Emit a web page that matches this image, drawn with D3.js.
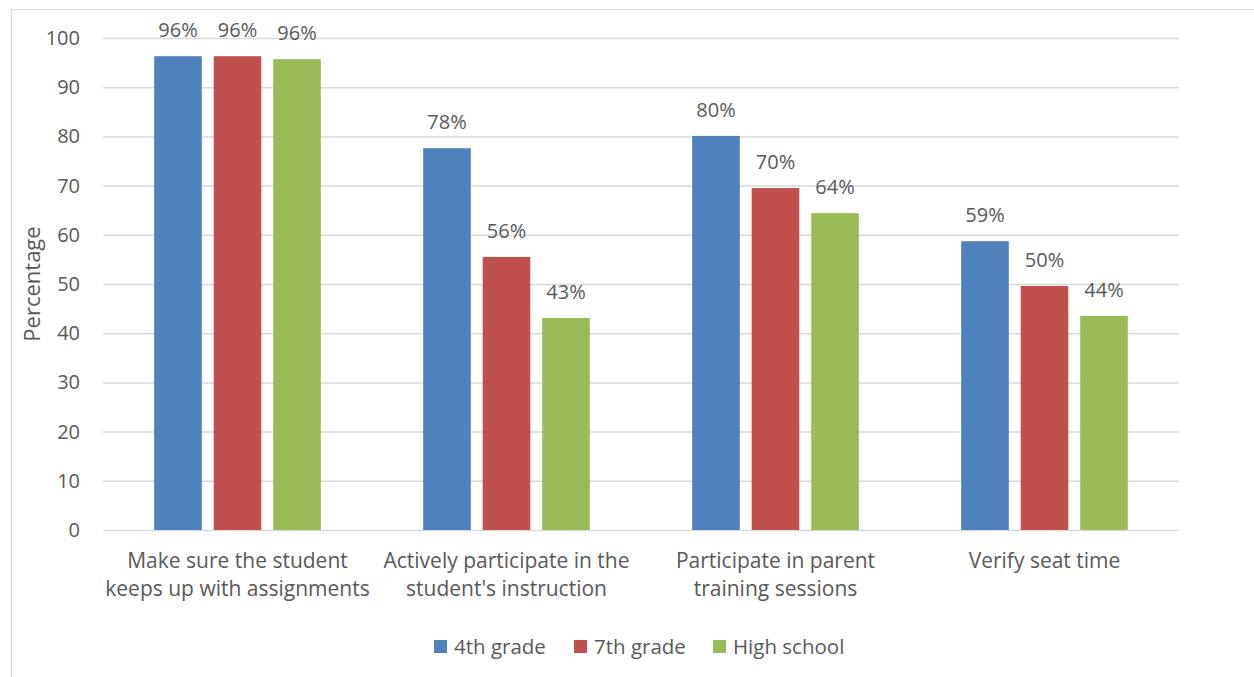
<!DOCTYPE html>
<html><head><meta charset="utf-8">
<script src="https://cdn.jsdelivr.net/npm/d3@7"></script>
<style>body{margin:0;background:#fff;}svg{display:block;font-family:"Open Sans",sans-serif;}</style>
</head><body><svg id="c" width="1254" height="677"></svg>
<script>
const categories = [["Make sure the student","keeps up with assignments"],["Actively participate in the","student's instruction"],["Participate in parent","training sessions"],["Verify seat time"]];
const seriesNames = ["4th grade","7th grade","High school"];
const grade4 = [96.3, 77.6, 80.1, 58.7];
const grade7 = [96.3, 55.5, 69.5, 49.6];
const highSchool = [95.7, 43.1, 64.4, 43.5];
const labels4 = ["96%","78%","80%","59%"];
const labels7 = ["96%","56%","70%","50%"];
const labelsHS = ["96%","43%","64%","44%"];
const yTicks = [0,10,20,30,40,50,60,70,80,90,100];
const colors = ["#4f81bd","#c0504d","#9bbb59"];

const series = [grade4, grade7, highSchool];
const seriesLabels = [labels4, labels7, labelsHS];
const svg = d3.select("#c");
const txt = "#595959";
// outer border
svg.append("path").attr("d","M11.5,677 L11.5,9.5 L1254,9.5").attr("fill","none").attr("stroke","#d9d9d9").attr("stroke-width",1.2);

const L=103, R=1179, T=38, B=530;
const y = d3.scaleLinear().domain([0,100]).range([B,T]);
const x0 = d3.scaleBand().domain(d3.range(categories.length)).range([L,R]);
const x1 = d3.scaleBand().domain(d3.range(3)).range([0,x0.bandwidth()]).paddingInner(0.2).paddingOuter(0.86);

const yAxis = svg.append("g").attr("transform",`translate(${L},0)`).call(d3.axisLeft(y).tickValues(yTicks).tickSize(-(R-L)).tickPadding(23));
yAxis.select(".domain").remove();
yAxis.selectAll(".tick line").attr("stroke","#d9d9d9").attr("stroke-width",1.5);
yAxis.selectAll(".tick text").attr("fill",txt).style("font-size","20px").style("font-family","'Open Sans',sans-serif");

const g = svg.append("g");
series.forEach((vals,si)=>{
  g.selectAll(null).data(vals).enter().append("rect")
    .attr("x",(d,i)=>x0(i)+x1(si)).attr("width",x1.bandwidth())
    .attr("y",d=>y(d)).attr("height",d=>B-y(d)).attr("fill",colors[si]);
  g.selectAll(null).data(vals).enter().append("text")
    .attr("x",(d,i)=>x0(i)+x1(si)+x1.bandwidth()/2).attr("y",d=>y(d)-19)
    .attr("text-anchor","middle").attr("fill",txt).style("font-size","20px")
    .text((d,i)=>seriesLabels[si][i]);
});

categories.forEach((lines,i)=>{
  const t = svg.append("text").attr("text-anchor","middle").attr("fill",txt).style("font-size","21px")
    .attr("x",x0(i)+x0.bandwidth()/2).attr("y",568);
  lines.forEach((ln,k)=>t.append("tspan").attr("x",x0(i)+x0.bandwidth()/2).attr("dy",k?28:0).text(ln));
});

svg.append("text").attr("transform","translate(40,284) rotate(-90)").attr("text-anchor","middle")
  .attr("fill",txt).style("font-size","22px").text("Percentage");

const legX = [434,574,713];
seriesNames.forEach((n,i)=>{
  svg.append("rect").attr("x",legX[i]).attr("y",640).attr("width",13).attr("height",13).attr("fill",colors[i]);
  svg.append("text").attr("x",legX[i]+20).attr("y",654).attr("fill",txt).style("font-size","20.5px").text(n);
});
</script></body></html>
